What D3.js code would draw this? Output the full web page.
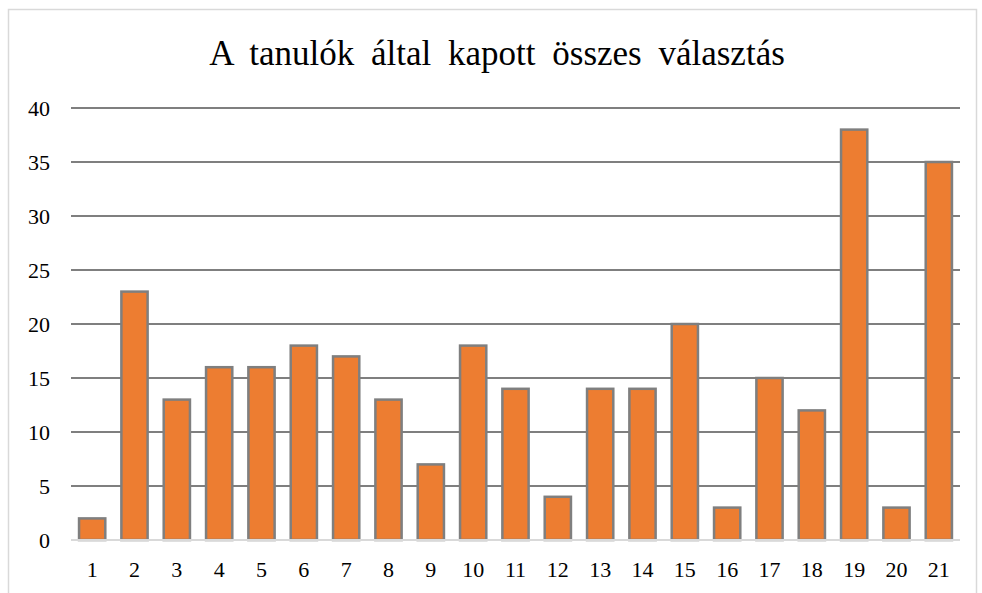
<!DOCTYPE html>
<html>
<head>
<meta charset="utf-8">
<script src="https://cdn.jsdelivr.net/npm/d3@7"></script>
<style>
  body { margin: 0; background: #fff; }
</style>
</head>
<body>
<div id="chart"></div>
<script>
// data
const categories = ["1","2","3","4","5","6","7","8","9","10","11","12","13","14","15","16","17","18","19","20","21"];
const values = [2, 23, 13, 16, 16, 18, 17, 13, 7, 18, 14, 4, 14, 14, 20, 3, 15, 12, 38, 3, 35];
const yTicks = [0, 5, 10, 15, 20, 25, 30, 35, 40];
const title = "A tanulók által kapott összes választás";

const serif = "Liberation Serif, DejaVu Serif, serif";

// svg size
const width = 982;
const height = 593;

const margin = { top: 108, right: 22, bottom: 53, left: 71 };
const chartWidth = width - margin.left - margin.right;
const chartHeight = height - margin.top - margin.bottom;

const svg = d3.select("#chart").append("svg")
    .attr("width", width)
    .attr("height", height);

// outer frame
svg.append("rect")
    .attr("x", 8.5)
    .attr("y", 9.5)
    .attr("width", 968)
    .attr("height", 600)
    .attr("fill", "none")
    .attr("stroke", "#d9d9d9")
    .attr("stroke-width", 1.5);

// title
svg.append("text")
    .attr("x", 497)
    .attr("y", 65)
    .attr("text-anchor", "middle")
    .attr("font-family", serif)
    .attr("font-size", 35)
    .attr("word-spacing", 8)
    .attr("fill", "#000")
    .text(title);

const chartGroup = svg.append("g")
    .attr("transform", `translate(${margin.left}, ${margin.top})`);

// scales
const x = d3.scaleBand()
    .domain(categories)
    .range([0, chartWidth])
    .paddingInner(0.38)
    .paddingOuter(0.19);

const y = d3.scaleLinear()
    .domain([0, 40])
    .range([chartHeight, 0]);

// gridlines
chartGroup.append("g")
    .selectAll("line")
    .data(yTicks.filter(d => d > 0))
    .enter()
    .append("line")
    .attr("x1", 0)
    .attr("x2", chartWidth)
    .attr("y1", d => y(d))
    .attr("y2", d => y(d))
    .attr("stroke", "#7f7f7f")
    .attr("stroke-width", 2);

// y axis labels
const leftAxis = d3.axisLeft(y).tickValues(yTicks).tickSize(0).tickPadding(21);
const yAxis = chartGroup.append("g")
    .call(leftAxis)
    .attr("font-family", serif)
    .attr("font-size", 22);
yAxis.select(".domain").remove();
yAxis.selectAll("text").attr("fill", "#000");

// bars
chartGroup.append("g")
    .selectAll("rect")
    .data(values)
    .enter()
    .append("rect")
    .attr("x", (d, i) => x(categories[i]))
    .attr("y", d => y(d))
    .attr("width", x.bandwidth())
    .attr("height", d => chartHeight - y(d))
    .attr("fill", "#ed7d31")
    .attr("stroke", "#7f7f7f")
    .attr("stroke-width", 2.5);

// baseline
chartGroup.append("line")
    .attr("x1", 0)
    .attr("x2", chartWidth)
    .attr("y1", chartHeight)
    .attr("y2", chartHeight)
    .attr("stroke", "#d9d9d9")
    .attr("stroke-width", 2);

// x axis labels
const bottomAxis = d3.axisBottom(x).tickSize(0).tickPadding(21);
const xAxis = chartGroup.append("g")
    .attr("transform", `translate(0, ${chartHeight})`)
    .call(bottomAxis)
    .attr("font-family", serif)
    .attr("font-size", 22);
xAxis.select(".domain").remove();
xAxis.selectAll("text").attr("fill", "#000");
</script>
</body>
</html>
